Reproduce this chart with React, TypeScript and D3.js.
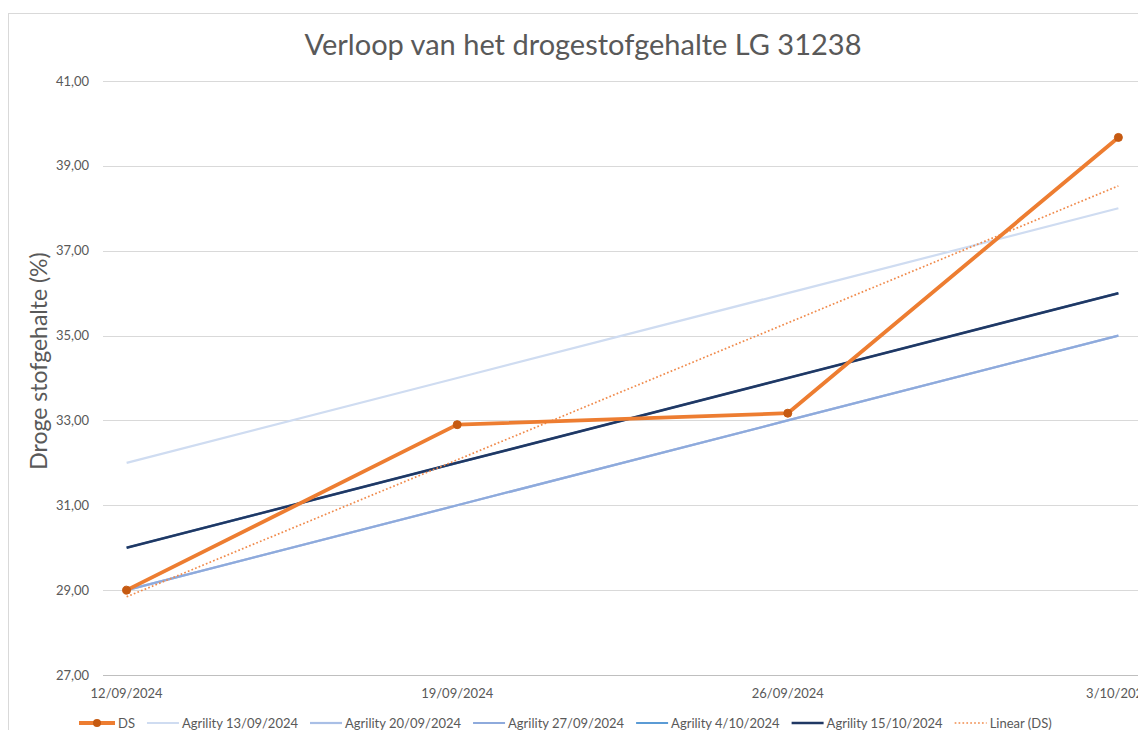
import { useEffect, useRef } from 'react';
import * as d3 from 'd3';

const DATES = ['2024-09-12', '2024-09-19', '2024-09-26', '2024-10-03'];
const DATE_LABELS = ['12/09/2024', '19/09/2024', '26/09/2024', '3/10/2024'];
const Y_TICKS = [27, 29, 31, 33, 35, 37, 39, 41];

const DS = [29.0, 32.9, 33.17, 39.67];
const AGRI_1309 = [32, 34, 36, 38];
const AGRI_2009 = [29, 31, 33, 35];
const AGRI_2709 = [29, 31, 33, 35];
const AGRI_0410 = [30, 32, 34, 36];
const AGRI_1510 = [30, 32, 34, 36];

const SERIES = [
  { name: 'Agrility 13/09/2024', values: AGRI_1309, color: '#cfdcf1', width: 2.2 },
  { name: 'Agrility 20/09/2024', values: AGRI_2009, color: '#a9bfe6', width: 2.2 },
  { name: 'Agrility 27/09/2024', values: AGRI_2709, color: '#8eaadc', width: 2.2 },
  { name: 'Agrility 4/10/2024', values: AGRI_0410, color: '#5b9bd5', width: 2.2 },
  { name: 'Agrility 15/10/2024', values: AGRI_1510, color: '#203864', width: 2.6 },
];

const FONT = 'Lato, "Open Sans", sans-serif';
const TEXT = '#595959';

const App = () => {
  const svgRef = useRef<SVGSVGElement>(null);

  useEffect(() => {
    const width = 1146;
    const height = 738;
    const svg = d3.select(svgRef.current);
    svg.selectAll('*').remove();
    svg.attr('width', width).attr('height', height);

    const dates = DATES.map(d => new Date(d + 'T00:00:00Z'));
    const halfDay = 12 * 3600 * 1000;
    const x = d3
      .scaleUtc()
      .domain([new Date(+dates[0] - halfDay), new Date(+dates[dates.length - 1] + halfDay)])
      .range([103, 1142]);
    const y = d3.scaleLinear().domain([27, 41]).range([675, 81]);

    // chart frame
    svg.append('rect')
      .attr('x', 8.5).attr('y', 13.5).attr('width', 1300).attr('height', 900)
      .attr('fill', '#fff').attr('stroke', '#d9d9d9');

    svg.append('text')
      .attr('x', 583).attr('y', 55)
      .attr('text-anchor', 'middle')
      .attr('font-family', FONT).attr('font-size', 29)
      .attr('fill', TEXT)
      .text('Verloop van het drogestofgehalte LG 31238');

    // grid
    svg.append('g').selectAll('line').data(Y_TICKS).enter().append('line')
      .attr('x1', 103).attr('x2', 1142)
      .attr('y1', d => Math.round(y(d)) + 0.5).attr('y2', d => Math.round(y(d)) + 0.5)
      .attr('stroke', d => (d === 27 ? '#bfbfbf' : '#d9d9d9')).attr('stroke-width', 1);

    svg.append('g').selectAll('text').data(Y_TICKS).enter().append('text')
      .attr('x', 89).attr('y', d => y(d)).attr('dy', '0.35em')
      .attr('text-anchor', 'end')
      .attr('font-family', FONT).attr('font-size', 13).attr('fill', TEXT)
      .text(d => d3.format('.2f')(d).replace('.', ','));

    svg.append('g').selectAll('text').data(dates).enter().append('text')
      .attr('x', d => x(d)).attr('y', 698)
      .attr('text-anchor', 'middle')
      .attr('font-family', FONT).attr('font-size', 13).attr('fill', TEXT)
      .text((d, i) => DATE_LABELS[i]);

    svg.append('text')
      .attr('transform', `translate(47,361) rotate(-90)`)
      .attr('text-anchor', 'middle')
      .attr('font-family', FONT).attr('font-size', 23).attr('fill', TEXT)
      .text('Droge stofgehalte (%)');

    const line = d3.line<number>().x((d, i) => x(dates[i])).y(d => y(d));

    SERIES.forEach(s => {
      svg.append('path').datum(s.values)
        .attr('d', line).attr('fill', 'none')
        .attr('stroke', s.color).attr('stroke-width', s.width);
    });

    // linear trendline of DS
    const xs = DS.map((_, i) => i);
    const mx = d3.mean(xs) as number;
    const my = d3.mean(DS) as number;
    const slope = d3.sum(xs, (v, i) => (v - mx) * (DS[i] - my)) / d3.sum(xs, v => (v - mx) ** 2);
    const trend = xs.map(v => my + slope * (v - mx));
    svg.append('path').datum(trend)
      .attr('d', line).attr('fill', 'none')
      .attr('stroke', '#f08a4b').attr('stroke-width', 1.7)
      .attr('stroke-dasharray', '1.7 2.2');

    svg.append('path').datum(DS)
      .attr('d', line).attr('fill', 'none')
      .attr('stroke', '#ed7d31').attr('stroke-width', 3.8)
      .attr('stroke-linejoin', 'round');
    svg.append('g').selectAll('circle').data(DS).enter().append('circle')
      .attr('cx', (d, i) => x(dates[i])).attr('cy', d => y(d)).attr('r', 4)
      .attr('fill', '#c65a11').attr('stroke', '#c65a11').attr('stroke-width', 1);

    // legend
    const items = [
      { name: 'DS', color: '#ed7d31', width: 3.8, dash: null, marker: true },
      ...SERIES.map(s => ({ name: s.name, color: s.color, width: s.width, dash: null, marker: false })),
      { name: 'Linear (DS)', color: '#f08a4b', width: 1.7, dash: '1.7 2.2', marker: false },
    ];
    const lg = svg.append('g').attr('transform', 'translate(0,723)');
    let cx = 79;
    items.forEach(it => {
      const g = lg.append('g').attr('transform', `translate(${cx},0)`);
      const lw = it.marker ? 36 : 32;
      g.append('line').attr('x1', 0).attr('x2', lw).attr('y1', 0).attr('y2', 0)
        .attr('stroke', it.color).attr('stroke-width', it.width)
        .attr('stroke-dasharray', it.dash);
      if (it.marker) {
        g.append('circle').attr('cx', lw / 2).attr('cy', 0).attr('r', 4).attr('fill', '#c65a11');
      }
      const t = g.append('text').attr('x', lw + 3).attr('y', 0).attr('dy', '0.35em')
        .attr('font-family', FONT).attr('font-size', 13).attr('fill', TEXT)
        .text(it.name);
      const tw = (t.node() as SVGTextElement).getComputedTextLength();
      cx += lw + 3 + tw + 12;
    });
  }, []);

  return (
    <div style={{ margin: -8, width: 1146, height: 738, overflow: 'hidden' }}>
      <svg ref={svgRef} style={{ display: 'block' }} />
    </div>
  );
};

export default App;
